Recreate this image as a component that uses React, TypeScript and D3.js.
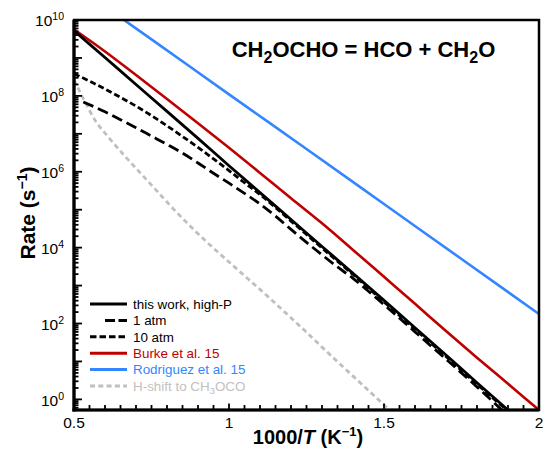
import React from 'react';
import * as d3 from 'd3';

// ---- data (log10 of rate, s^-1) vs 1000/T (K^-1) ----
const highPX = [0.5, 0.6, 0.7, 0.8, 0.9, 1.0, 1.1, 1.2, 1.3, 1.4, 1.5, 1.6, 1.7, 1.8, 1.9];
const highPLogK = [9.72, 9.01, 8.3, 7.59, 6.88, 6.16, 5.45, 4.74, 4.03, 3.32, 2.61, 1.89, 1.17, 0.44, -0.28];

const atm1X = [0.53, 0.6, 0.65, 0.7, 0.75, 0.8, 0.85, 0.9, 0.95, 1.0, 1.05, 1.1, 1.15, 1.2, 1.25, 1.3, 1.35, 1.4, 1.45, 1.5, 1.6, 1.7, 1.8, 1.88];
const atm1LogK = [7.84, 7.58, 7.37, 7.16, 6.94, 6.72, 6.49, 6.23, 5.96, 5.7, 5.43, 5.15, 4.83, 4.48, 4.14, 3.81, 3.49, 3.19, 2.85, 2.5, 1.78, 1.06, 0.33, -0.28];

const atm10X = [0.5, 0.55, 0.6, 0.65, 0.7, 0.75, 0.8, 0.85, 0.9, 0.95, 1.0, 1.05, 1.1, 1.2, 1.3, 1.4, 1.5, 1.6, 1.7, 1.8, 1.9];
const atm10LogK = [8.58, 8.39, 8.18, 7.96, 7.73, 7.48, 7.21, 6.93, 6.64, 6.34, 6.03, 5.71, 5.4, 4.7, 3.99, 3.29, 2.57, 1.85, 1.13, 0.4, -0.31];

const burkeX = [0.5, 0.6, 0.7, 0.8, 0.9, 1.0, 1.1, 1.2, 1.3, 1.4, 1.5, 1.6, 1.7, 1.8, 1.9, 2.0];
const burkeLogK = [9.75, 9.17, 8.55, 7.92, 7.28, 6.63, 5.97, 5.3, 4.64, 3.94, 3.23, 2.52, 1.8, 1.1, 0.41, -0.28];

const rodriguezX = [0.5, 0.75, 1.0, 1.25, 1.5, 1.75, 2.0];
const rodriguezLogK = [10.93, 9.49, 8.04, 6.6, 5.15, 3.7, 2.25];

const hshiftX = [0.5, 0.533, 0.571, 0.607, 0.66, 0.715, 0.77, 0.823, 0.919, 1.014, 1.12, 1.229, 1.336, 1.444, 1.52];
const hshiftLogK = [8.42, 7.88, 7.32, 6.95, 6.45, 5.96, 5.47, 5.0, 4.22, 3.52, 2.75, 1.93, 1.1, 0.28, -0.3];

const xTickLabels = [0.5, 1, 1.5, 2];
const yLabelExps = [0, 2, 4, 6, 8, 10];

const legendLabels = ['this work, high-P', '1 atm', '10 atm', 'Burke et al. 15', 'Rodriguez et al. 15', 'H-shift to CH'];

// ---- layout ----
const W = 545;
const H = 453;
const L = 74, R = 539, T = 20, B = 410;
const FONT = '"Liberation Sans", Arial, Helvetica, sans-serif';

const xScale = d3.scaleLinear().domain([0.5, 2]).range([L, R]);
const yScale = d3.scaleLog().domain([Math.pow(10, -0.28), 1e10]).range([B, T]);

const lineGen = d3
  .line<[number, number]>()
  .x((d) => xScale(d[0]))
  .y((d) => yScale(Math.pow(10, d[1])))
  .curve(d3.curveMonotoneX);

const zipXY = (xs: number[], ys: number[]) => xs.map((x, i) => [x, ys[i]] as [number, number]);

const series = [
  { name: legendLabels[0], d: zipXY(highPX, highPLogK), color: '#000000', width: 2.8, dash: undefined as string | undefined, legDash: undefined as string | undefined, text: '#000000' },
  { name: legendLabels[1], d: zipXY(atm1X, atm1LogK), color: '#000000', width: 2.8, dash: '11 5', legDash: '0 15 10 3.5 10 60', text: '#000000' },
  { name: legendLabels[2], d: zipXY(atm10X, atm10LogK), color: '#000000', width: 2.8, dash: '6 3', legDash: '6.5 3', text: '#000000' },
  { name: legendLabels[3], d: zipXY(burkeX, burkeLogK), color: '#c00000', width: 2.6, dash: undefined, legDash: undefined, text: '#c00000' },
  { name: legendLabels[4], d: zipXY(rodriguezX, rodriguezLogK), color: '#3386ff', width: 2.6, dash: undefined, legDash: undefined, text: '#3386ff' },
  { name: legendLabels[5], d: zipXY(hshiftX, hshiftLogK), color: '#bfbfbf', width: 2.8, dash: '5 3.5', legDash: '5 3.3', text: '#bfbfbf' },
];

const drawOrder = [5, 4, 3, 1, 2, 0];

export default function App() {
  const xMinor = d3.range(0, 31).map((i) => 0.5 + i * 0.05);
  const yMajor = d3.range(0, 11).map((e) => Math.pow(10, e));
  const yMinor: number[] = [];
  for (let e = -1; e < 10; e++) {
    for (let m = 2; m <= 9; m++) {
      const v = m * Math.pow(10, e);
      if (v >= Math.pow(10, -0.28) && v <= 1e10) yMinor.push(v);
    }
  }

  const legX0 = 90, legX1 = 127, legTx = 133, legY0 = 304, legDy = 16.4;

  return (
    <svg
      width={W}
      height={H}
      viewBox={`0 0 ${W} ${H}`}
      style={{ position: 'absolute', left: 0, top: 0, background: '#fff' }}
      fontFamily={FONT}
    >
      <defs>
        <clipPath id="plotClip">
          <rect x={L} y={T} width={R - L} height={B - T} />
        </clipPath>
      </defs>
      <rect x={0} y={0} width={W} height={H} fill="#fff" />

      {/* series */}
      <g clipPath="url(#plotClip)">
        {drawOrder.map((i) => {
          const s = series[i];
          return (
            <path
              key={s.name}
              d={lineGen(s.d) || ''}
              fill="none"
              stroke={s.color}
              strokeWidth={s.width}
              strokeDasharray={s.dash}
              strokeLinejoin="round"
            />
          );
        })}
      </g>

      {/* ticks */}
      <g stroke="#000" strokeWidth={1.8}>
        {xMinor.map((v, i) => {
          const major = Math.abs((v * 2) - Math.round(v * 2)) < 1e-6;
          return (
            <line key={'xt' + i} x1={xScale(v)} x2={xScale(v)} y1={B} y2={B - (major ? 6.5 : 5)} />
          );
        })}
        {yMajor.map((v, i) => (
          <line key={'ymj' + i} x1={L} x2={L + 8} y1={yScale(v)} y2={yScale(v)} />
        ))}
        {yMinor.map((v, i) => (
          <line key={'ymn' + i} x1={L} x2={L + 4.5} y1={yScale(v)} y2={yScale(v)} />
        ))}
      </g>

      {/* frame */}
      <rect x={L} y={T} width={R - L} height={B - T} fill="none" stroke="#000" strokeWidth={2.5} />
      <line x1={L} x2={L} y1={T} y2={B + 1.5} stroke="#000" strokeWidth={3.2} />
      <line x1={L - 1.5} x2={R} y1={B} y2={B} stroke="#000" strokeWidth={3.2} />

      {/* x tick labels */}
      {xTickLabels.map((v) => (
        <text key={'xl' + v} x={xScale(v)} y={428} textAnchor="middle" fontSize={15.5} fill="#000">
          {String(v)}
        </text>
      ))}

      {/* y tick labels */}
      {yLabelExps.map((e) => (
        <text key={'yl' + e} x={64} y={yScale(Math.pow(10, e)) + 6.4} textAnchor="end" fontSize={15.5} fill="#000">
          10
          <tspan dy={-6} fontSize={10.5}>{String(e)}</tspan>
        </text>
      ))}

      {/* axis titles */}
      <text x={308} y={444} textAnchor="middle" fontSize={20} fontWeight="bold" fill="#000">
        1000/<tspan fontStyle="italic">T</tspan> (K<tspan dy={-8} fontSize={13}>−1</tspan>
        <tspan dy={8}>)</tspan>
      </text>
      <text transform="translate(35,213) rotate(-90)" textAnchor="middle" fontSize={21} fontWeight="bold" fill="#000">
        Rate (s<tspan dy={-8} fontSize={14}>−1</tspan>
        <tspan dy={8}>)</tspan>
      </text>

      {/* title */}
      <text x={363.5} y={57} textAnchor="middle" fontSize={22} fontWeight="bold" fill="#000">
        CH<tspan dy={6} fontSize={16}>2</tspan>
        <tspan dy={-6}>OCHO = HCO + CH</tspan>
        <tspan dy={6} fontSize={16}>2</tspan>
        <tspan dy={-6}>O</tspan>
      </text>

      {/* legend */}
      {series.map((s, i) => {
        const y = legY0 + i * legDy;
        return (
          <g key={'leg' + i}>
            <line x1={legX0} x2={legX1} y1={y} y2={y} stroke={s.color} strokeWidth={3} strokeDasharray={s.legDash} />
            <text x={legTx} y={y + 4.8} fontSize={13.4} fill={s.text}>
              {s.name}
              {i === 5 ? (
                <>
                  <tspan dy={3} fontSize={9.5}>3</tspan>
                  <tspan dy={-3}>OCO</tspan>
                </>
              ) : null}
            </text>
          </g>
        );
      })}
    </svg>
  );
}
